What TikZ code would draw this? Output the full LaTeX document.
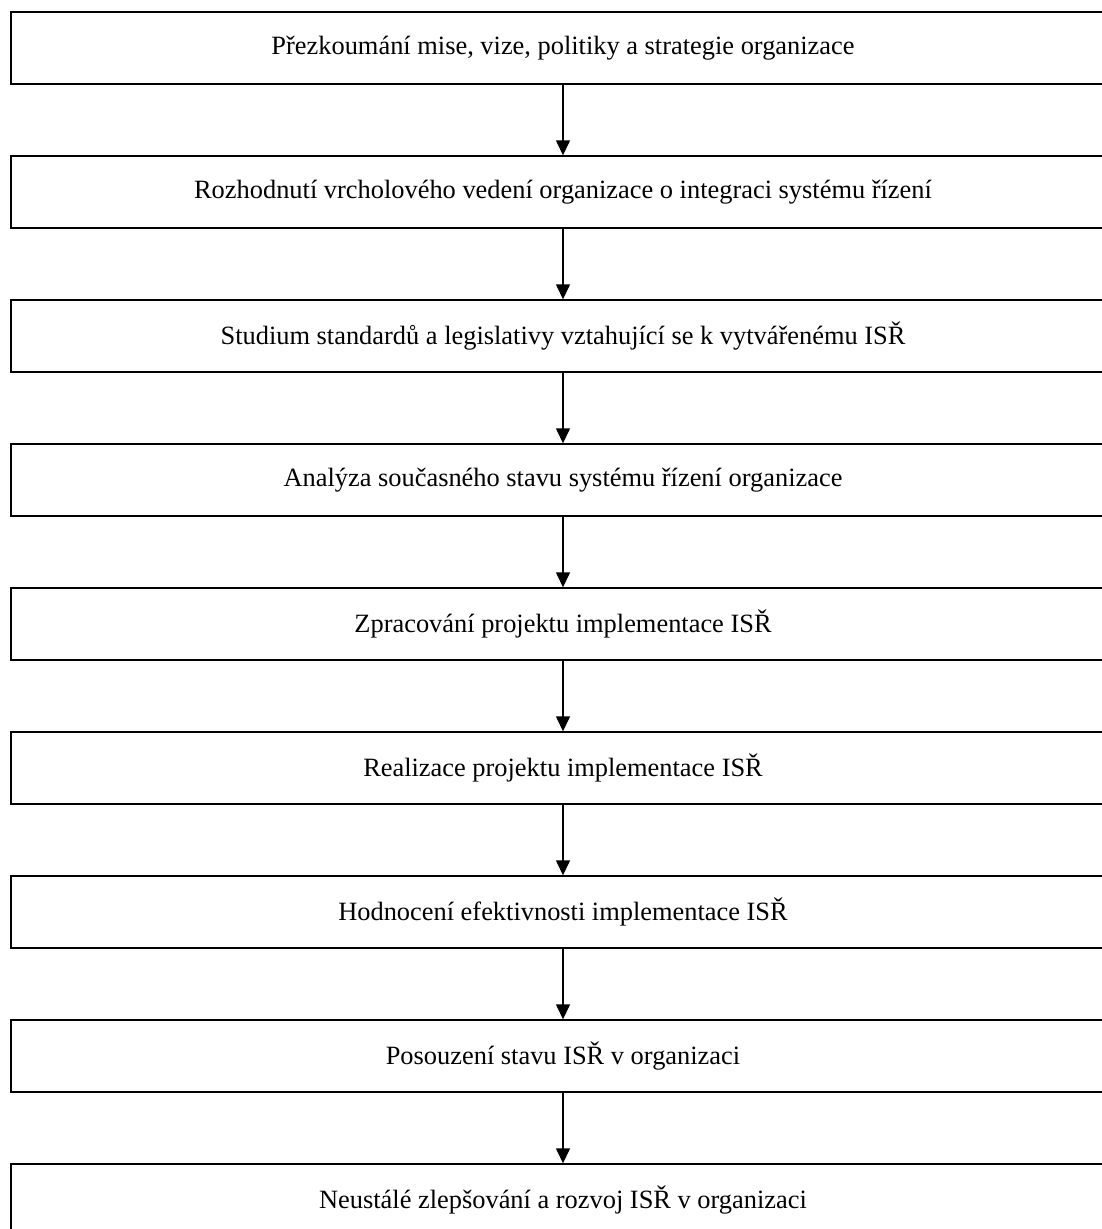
\documentclass[tikz,border=0pt]{standalone}
\usepackage{fontspec}
\setmainfont{Liberation Serif}
\usetikzlibrary{arrows.meta}
\begin{document}
\begin{tikzpicture}[x=1pt,y=-1pt,
  stepbox/.style={draw=black,line width=1.4pt,fill=white,rectangle,
    minimum width=1104pt,minimum height=72pt,inner sep=0pt,
    font=\fontsize{26.4pt}{30pt}\selectfont},
  flow/.style={draw=black,line width=1.4pt,-{Triangle[length=15pt,width=14pt]}}]
  % page frame and clipping
  \useasboundingbox (0,0) rectangle (1102,1229);
  \clip (0,0) rectangle (1102,1229);
  \fill[white] (0,0) rectangle (1102,1229);
  % process steps
  \node[stepbox] (s1) at (563,48)   {Přezkoumání mise, vize, politiky a strategie organizace};
  \node[stepbox] (s2) at (563,192)  {Rozhodnutí vrcholového vedení organizace o integraci systému řízení};
  \node[stepbox] (s3) at (563,336)  {Studium standardů a legislativy vztahující se k vytvářenému ISŘ};
  \node[stepbox] (s4) at (563,480)  {Analýza současného stavu systému řízení organizace};
  \node[stepbox] (s5) at (563,624)  {Zpracování projektu implementace ISŘ};
  \node[stepbox] (s6) at (563,768)  {Realizace projektu implementace ISŘ};
  \node[stepbox] (s7) at (563,912)  {Hodnocení efektivnosti implementace ISŘ};
  \node[stepbox] (s8) at (563,1056) {Posouzení stavu ISŘ v organizaci};
  \node[stepbox] (s9) at (563,1200) {Neustálé zlepšování a rozvoj ISŘ v organizaci};
  % connectors
  \foreach \a/\b in {s1/s2,s2/s3,s3/s4,s4/s5,s5/s6,s6/s7,s7/s8,s8/s9}
    \draw[flow] (\a.south) -- (\b.north);
\end{tikzpicture}
\end{document}
